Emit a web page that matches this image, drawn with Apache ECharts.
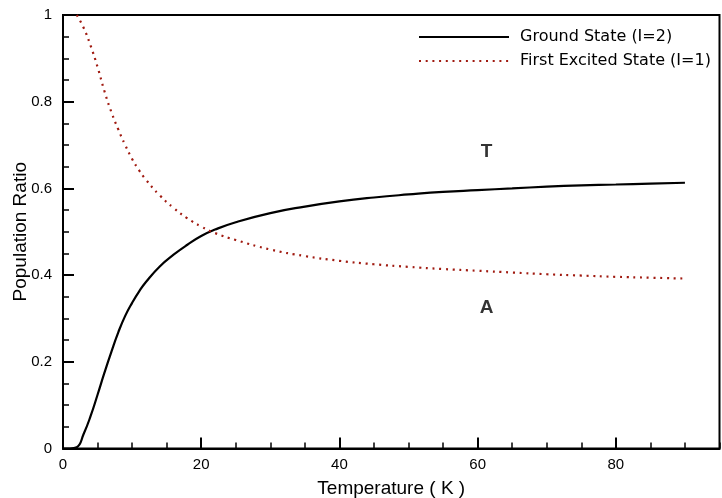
<!DOCTYPE html>
<html><head><meta charset="utf-8">
<script src="https://cdn.jsdelivr.net/npm/echarts@6/dist/echarts.min.js"></script>
<style>html,body{margin:0;padding:0;background:#fff}#c{width:722px;height:498px}</style>
</head><body><div id="c"></div>
<script>
const temps = [0,1,2,3,4,5,6,7,8,9,10,11,12,14,16,18,20,22,25,30,35,40,45,50,55,60,65,70,75,80,85,90];
const ground = [0,0,0.003,0.034,0.075,0.124,0.175,0.223,0.268,0.306,0.336,0.362,0.384,0.42,0.447,0.47,0.49,0.505,0.522,0.543,0.558,0.57,0.579,0.586,0.592,0.596,0.6,0.604,0.607,0.609,0.611,0.613];
const excited = [null,null,1.0,0.97,0.929,0.88,0.824,0.776,0.736,0.7,0.668,0.642,0.62,0.584,0.555,0.531,0.512,0.497,0.481,0.459,0.444,0.433,0.425,0.419,0.414,0.41,0.406,0.402,0.399,0.396,0.394,0.392];
const seriesNames = ['Ground State (I=2)', 'First Excited State (I=1)'];
const annotations = [[61.3, 0.685, 'T'], [61.3, 0.325, 'A']];
const xTicks = {min: 0, max: 95, major: 20, minor: 5};
const yTicks = {min: 0, max: 1, major: 0.2};

const groundData = temps.map((t, i) => [t, ground[i]]);
const excitedData = temps.map((t, i) => [t, excited[i]]);

const chart = echarts.init(document.getElementById('c'));
const font = "'Liberation Sans', Arial, sans-serif";
chart.setOption({
  animation: false,
  backgroundColor: '#fff',
  grid: {left: 63, right: 2.5, top: 15, bottom: 49.5, containLabel: false, outerBoundsMode: 'none',
         show: true, borderColor: '#000', borderWidth: 2, backgroundColor: 'transparent'},
  legend: {
    data: seriesNames,
    orient: 'vertical',
    left: 418, top: 29,
    itemWidth: 90, itemHeight: 16, itemGap: 8,
    itemStyle: {color: 'transparent', borderWidth: 0, opacity: 0},
    textStyle: {fontFamily: "'DejaVu Sans', Verdana, sans-serif", fontSize: 16, color: '#000', padding: [0,0,0,6]},
    padding: 0
  },
  xAxis: [{
    type: 'value', min: xTicks.min, max: xTicks.max, interval: xTicks.major, position: 'bottom',
    name: 'Temperature ( K )', nameLocation: 'middle', nameGap: 31, nameMoveOverlap: false,
    nameTextStyle: {fontFamily: font, fontSize: 19, color: '#000'},
    axisLine: {show: true, lineStyle: {color: '#000', width: 2}},
    axisTick: {show: true, inside: true, length: 11, lineStyle: {color: '#000', width: 2}},
    axisLabel: {fontFamily: font, fontSize: 15, color: '#000', margin: 9, showMaxLabel: false},
    splitLine: {show: false}
  }, {
    type: 'value', min: xTicks.min, max: xTicks.max, interval: xTicks.minor, position: 'bottom',
    axisLine: {show: false},
    axisTick: {show: true, inside: true, length: 6, lineStyle: {color: '#000', width: 1.5}},
    axisLabel: {show: false},
    splitLine: {show: false}
  }],
  yAxis: [{
    type: 'value', min: yTicks.min, max: yTicks.max, interval: yTicks.major,
    name: 'Population Ratio', nameLocation: 'middle', nameGap: 33, nameMoveOverlap: false,
    nameTextStyle: {fontFamily: font, fontSize: 19, color: '#000'},
    axisLine: {show: true, lineStyle: {color: '#000', width: 2}},
    axisTick: {show: true, inside: true, length: 11, lineStyle: {color: '#000', width: 2}},
    minorTick: {show: true, splitNumber: 4, length: 6, lineStyle: {color: '#000', width: 1.5}},
    axisLabel: {fontFamily: font, fontSize: 15, color: '#000', margin: 11},
    splitLine: {show: false}
  }],
  series: [{
    name: seriesNames[0], type: 'line', data: groundData, smooth: 0.5,
    showSymbol: false, symbol: 'none',
    lineStyle: {color: '#000', width: 2.2}, itemStyle: {color: '#000'}
  }, {
    name: seriesNames[1], type: 'line', data: excitedData, smooth: 0.5,
    showSymbol: false, symbol: 'none', connectNulls: false,
    lineStyle: {color: '#a01a10', width: 2.2, type: [2, 4.7], cap: 'butt'}, itemStyle: {color: '#a01a10'}
  }, {
    type: 'scatter', data: annotations, symbolSize: 0, silent: true,
    label: {show: true, position: 'inside', formatter: p => p.value[2], fontFamily: font, fontSize: 19, fontWeight: 'bold', color: '#000'}
  }]
});
</script></body></html>
